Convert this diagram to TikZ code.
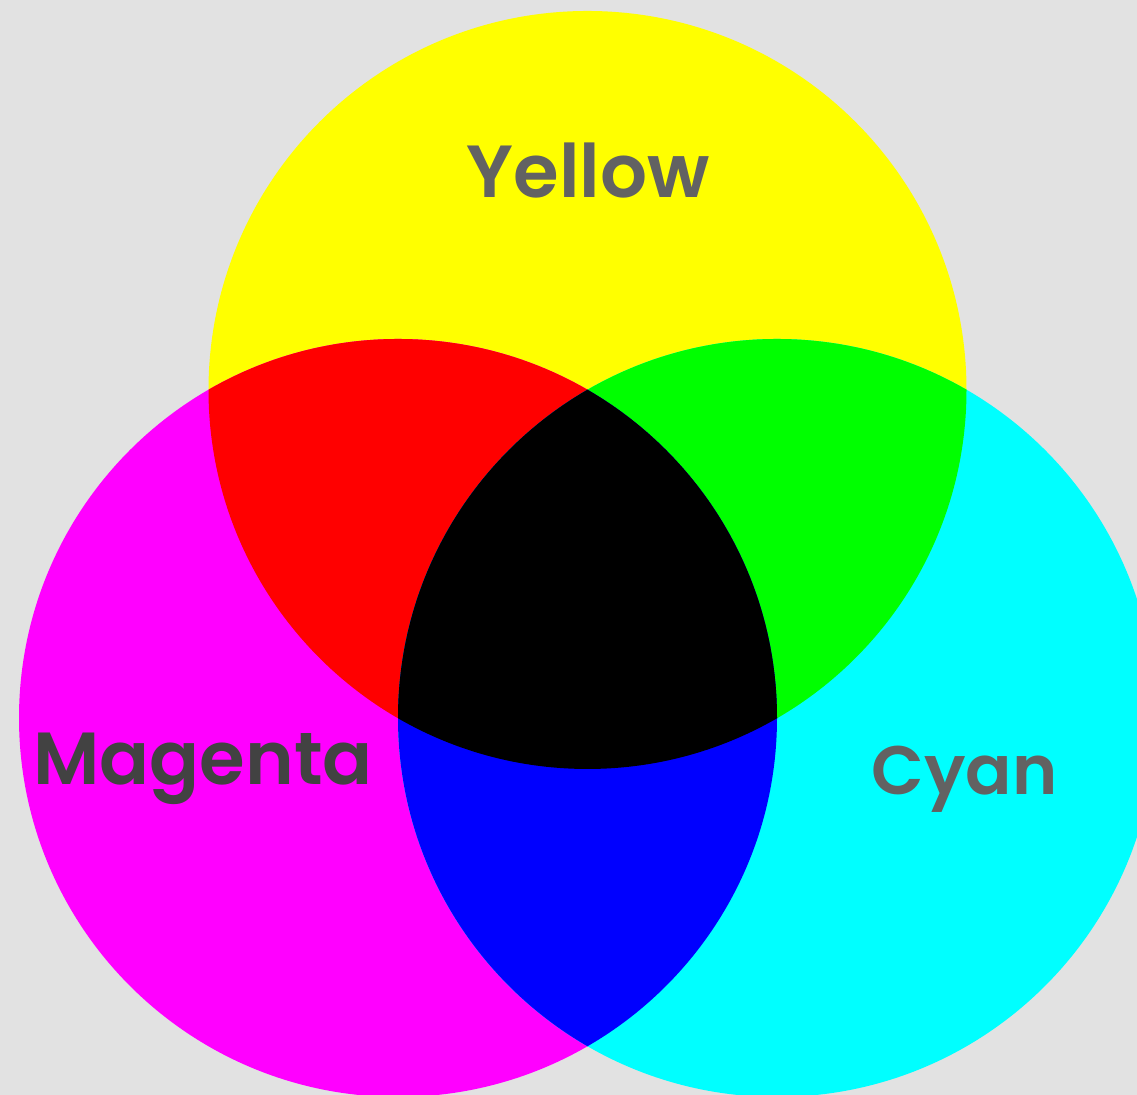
\documentclass[tikz,border=0pt]{standalone}
\usepackage{fontspec}
\setmainfont{Poppins}[BoldFont={Poppins SemiBold}]
\definecolor{bgwall}{HTML}{E2E2E2}
\definecolor{lblgray}{HTML}{626262}
\definecolor{lbldark}{HTML}{424242}
\definecolor{cyy}{HTML}{FFFF00}
\definecolor{cmm}{HTML}{FF00FF}
\definecolor{ccc}{HTML}{00FFFF}
\definecolor{crr}{HTML}{FF0000}
\definecolor{cgg}{HTML}{00FF00}
\definecolor{cbb}{HTML}{0000FF}
\begin{document}
\begin{tikzpicture}[
  lbl/.style={font=\fontsize{21}{25}\selectfont\bfseries, inner sep=0pt, anchor=base}
]
\fill[bgwall] (0,0) rectangle (11.37,10.95);
\useasboundingbox (0,0) rectangle (11.37,10.95);
\clip (0,0) rectangle (11.37,10.95);
\def\rad{3.79}
\coordinate (cy) at (5.875,7.05);
\coordinate (cm) at (3.98,3.77);
\coordinate (cc) at (7.77,3.77);
% base circles
\fill[cyy] (cy) circle (\rad);
\fill[cmm] (cm) circle (\rad);
\fill[ccc] (cc) circle (\rad);
% pairwise overlaps
\begin{scope}
  \clip (cy) circle (\rad);
  \fill[crr] (cm) circle (\rad);
  \fill[cgg] (cc) circle (\rad);
\end{scope}
\begin{scope}
  \clip (cm) circle (\rad);
  \fill[cbb] (cc) circle (\rad);
  \clip (cc) circle (\rad);
  \fill[black] (cy) circle (\rad);
\end{scope}
% labels
\node[lbl, text=lblgray] (ly) at (5.88,8.97) {Yellow};
\node[lbl, text=lbldark] (lm) at (2.03,3.10) {Magenta};
\node[lbl, text=lblgray] (lc) at (9.645,3.00) {\fontsize{19.5}{24}\selectfont Cyan};
\end{tikzpicture}
\end{document}
